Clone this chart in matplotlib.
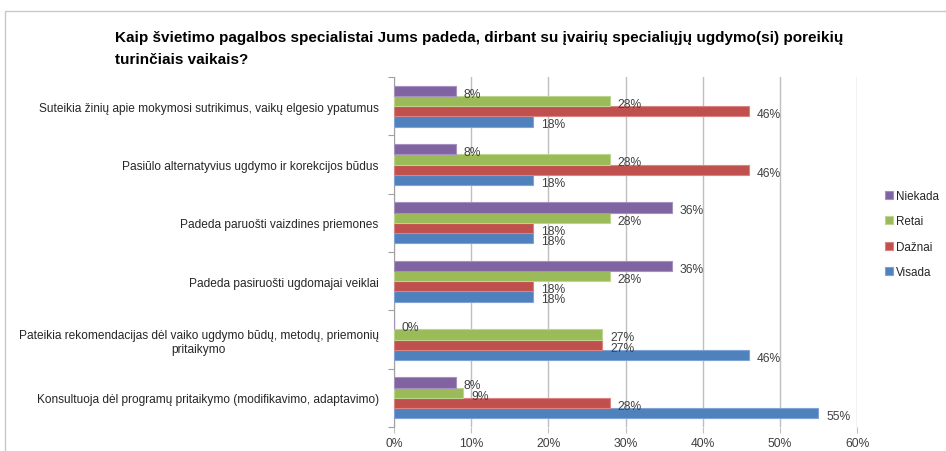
import numpy as np
import matplotlib; matplotlib.use('Agg')
import matplotlib.pyplot as plt
from matplotlib.patches import Rectangle

plt.rcParams['font.family'] = ['Liberation Sans', 'DejaVu Sans']

categories = [
    'Suteikia žinių apie mokymosi sutrikimus, vaikų elgesio ypatumus',
    'Pasiūlo alternatyvius ugdymo ir korekcijos būdus',
    'Padeda paruošti vaizdines priemones',
    'Padeda pasiruošti ugdomajai veiklai',
    'Pateikia rekomendacijas dėl vaiko ugdymo būdų, metodų, priemonių\npritaikymo',
    'Konsultuoja dėl programų pritaikymo (modifikavimo, adaptavimo)',
]
niekada = [8, 8, 36, 36, 0, 8]
retai = [28, 28, 28, 28, 27, 9]
daznai = [46, 46, 18, 18, 27, 28]
visada = [18, 18, 18, 18, 46, 55]

# bottom to top inside each group
series = [('Visada', visada, '#4F81BD', '#7FA3D6'),
          ('Dažnai', daznai, '#C0504D', '#D98482'),
          ('Retai', retai, '#9BBB59', '#BDD58E'),
          ('Niekada', niekada, '#8064A2', '#A590C0')]

fig = plt.figure(figsize=(9.46, 4.52), dpi=100)
ax = fig.add_axes([394/946, 1 - 428/452, (857 - 394)/946, (428 - 78)/452])

n = len(categories)
y = np.arange(n)[::-1].astype(float)
h = 0.175
for k, (name, vals, col, ecol) in enumerate(series):
    pos = y - 1.5*h + k*h
    ax.barh(pos, vals, height=h, color=col, edgecolor=ecol, linewidth=0.8, label=name, zorder=3)
    for p, v in zip(pos, vals):
        ax.text(v + 1.0, p - 0.05, f'{v}%', va='center', ha='left', fontsize=8.7, color='#404040', zorder=4)

ax.set_xlim(0, 60)
ax.set_ylim(-0.5, n - 0.5)
ax.set_xticks(range(0, 61, 10))
ax.set_xticklabels([f'{t}%' for t in range(0, 61, 10)], fontsize=8.7, color='#404040')
ax.xaxis.grid(True, color='#BFBFBF', linewidth=1.0, zorder=0)
ax.set_yticks(np.arange(-0.5, n, 1.0))
ax.set_yticklabels([])
ax.set_yticks(y, minor=True)
ax.set_yticklabels(categories, minor=True, fontsize=8.6, color='#262626', ha='right', multialignment='center')
ax.tick_params(axis='y', which='minor', length=0, pad=11)
ax.tick_params(axis='y', which='major', length=4, color='#A0A0A0')
ax.tick_params(axis='x', length=4, color='#BFBFBF', pad=3)
for s in ['top', 'right', 'bottom']:
    ax.spines[s].set_visible(False)
ax.spines['left'].set_color('#A0A0A0')

handles, labels = ax.get_legend_handles_labels()
leg = fig.legend(handles[::-1], labels[::-1], loc='center left', bbox_to_anchor=(874/946, 1 - 235/452),
                 frameon=False, fontsize=8.4, handlelength=0.7, handleheight=0.7,
                 handletextpad=0.3, labelspacing=1.15)
for t in leg.get_texts():
    t.set_color('#262626')

fig.text(115/946, 1 - 49/452, 'Kaip švietimo pagalbos specialistai Jums padeda, dirbant su įvairių specialiųjų ugdymo(si) poreikių\nturinčiais vaikais?',
         fontsize=11, fontweight='bold', ha='left', va='center', linespacing=1.7)

fig.patches.append(Rectangle((5/946, -0.1), 1.2, 1 - 12/452 + 0.1, transform=fig.transFigure,
                             fill=False, edgecolor='#C8C8C8', linewidth=1.0))

fig.savefig('out.png', dpi=100)
